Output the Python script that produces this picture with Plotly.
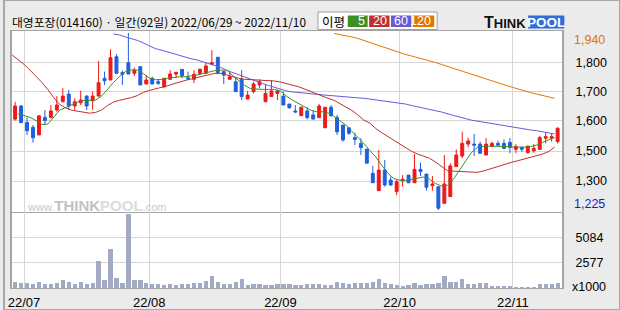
import plotly.graph_objects as go

# ---------------- data ----------------
month_labels = ["22/07", "22/08", "22/09", "22/10", "22/11"]
month_start_idx = [2, 23, 45, 65, 84]

open_ = [1592, 1645, 1578, 1559, 1528, 1599, 1599, 1629, 1662, 1693,
         1645, 1658, 1685, 1666, 1685, 1757, 1750, 1844, 1780, 1820,
         1777, 1804, 1734, 1757, 1743, 1723, 1753, 1774, 1793, 1759,
         1753, 1777, 1777, 1813, 1842, 1784, 1753, 1743, 1753, 1673,
         1703, 1730, 1662, 1683, 1696, 1685, 1653, 1625, 1606, 1625,
         1609, 1598, 1557, 1640, 1599, 1568, 1557, 1517, 1494, 1471,
         1373, 1303, 1386, 1346, 1299, 1343, 1366, 1335, 1389, 1370,
         1323, 1319, 1252, 1279, 1400, 1443, 1491, 1491, 1491, 1447,
         1481, 1494, 1494, 1498, 1470, 1478, 1456, 1464, 1470, 1515,
         1515, 1501]
high = [1662, 1649, 1599, 1568, 1609, 1629, 1649, 1685, 1717, 1710,
        1676, 1707, 1689, 1703, 1827, 1784, 1874, 1855, 1788, 1940,
        1801, 1804, 1770, 1763, 1753, 1757, 1790, 1781, 1793, 1784,
        1790, 1797, 1820, 1871, 1842, 1784, 1784, 1763, 1790, 1706,
        1743, 1753, 1730, 1750, 1710, 1703, 1653, 1649, 1642, 1640,
        1629, 1653, 1640, 1649, 1609, 1568, 1557, 1537, 1515, 1471,
        1403, 1467, 1427, 1359, 1349, 1366, 1366, 1451, 1416, 1370,
        1362, 1319, 1447, 1414, 1470, 1541, 1517, 1532, 1501, 1515,
        1501, 1505, 1510, 1515, 1491, 1478, 1483, 1491, 1524, 1537,
        1535, 1559]
low = [1586, 1578, 1528, 1497, 1528, 1568, 1595, 1622, 1662, 1629,
       1629, 1649, 1629, 1629, 1685, 1730, 1750, 1777, 1730, 1774,
       1766, 1730, 1734, 1734, 1730, 1717, 1750, 1757, 1757, 1750,
       1737, 1770, 1777, 1813, 1773, 1734, 1753, 1703, 1669, 1673,
       1696, 1717, 1662, 1683, 1669, 1649, 1634, 1618, 1606, 1591,
       1592, 1598, 1557, 1605, 1528, 1501, 1528, 1487, 1447, 1414,
       1335, 1303, 1319, 1322, 1285, 1319, 1333, 1335, 1362, 1303,
       1303, 1225, 1252, 1279, 1400, 1434, 1478, 1443, 1454, 1447,
       1478, 1481, 1470, 1454, 1454, 1460, 1454, 1456, 1467, 1494,
       1501, 1494]
close = [1645, 1578, 1545, 1517, 1605, 1586, 1625, 1649, 1685, 1645,
         1662, 1669, 1645, 1685, 1739, 1747, 1840, 1777, 1773, 1774,
         1790, 1730, 1750, 1734, 1737, 1757, 1774, 1781, 1767, 1755,
         1773, 1793, 1807, 1820, 1780, 1770, 1763, 1703, 1683, 1689,
         1734, 1743, 1696, 1706, 1706, 1649, 1638, 1621, 1640, 1598,
         1592, 1645, 1640, 1605, 1541, 1508, 1535, 1510, 1477, 1414,
         1335, 1386, 1326, 1326, 1339, 1349, 1335, 1389, 1380, 1317,
         1330, 1232, 1330, 1403, 1447, 1494, 1504, 1487, 1454, 1491,
         1494, 1487, 1474, 1478, 1481, 1470, 1483, 1474, 1517, 1521,
         1521, 1555]
volume_k = [568, 468, 468, 367, 568, 434, 434, 468, 768, 601,
            434, 568, 434, 468, 2672, 768, 3874, 969, 468, 7381,
            768, 768, 468, 367, 367, 301, 367, 301, 367, 367,
            468, 468, 668, 1169, 568, 434, 434, 568, 868, 301,
            367, 367, 301, 301, 367, 367, 367, 301, 301, 367,
            367, 367, 301, 301, 568, 501, 367, 468, 468, 468,
            568, 868, 468, 367, 301, 234, 301, 468, 301, 367,
            367, 468, 1169, 568, 568, 868, 367, 367, 468, 468,
            167, 234, 234, 234, 100, 100, 100, 100, 367, 367,
            367, 468]

ma5_start = 1
ma5 = [1613, 1607, 1599, 1586, 1570, 1572, 1601, 1629, 1639,
       1651, 1661, 1667, 1669, 1669, 1685, 1714, 1740, 1764, 1784,
       1791, 1790, 1776, 1758, 1751, 1752, 1757, 1761, 1763, 1763,
       1766, 1770, 1776, 1782, 1788, 1790, 1790, 1768, 1748, 1728,
       1715, 1712, 1712, 1712, 1712, 1706, 1685, 1669, 1655, 1642,
       1629, 1622, 1622, 1617, 1603, 1585, 1568, 1542, 1518, 1494,
       1465, 1439, 1405, 1374, 1352, 1345, 1344, 1348, 1355, 1358,
       1349, 1332, 1322, 1324, 1348, 1384, 1423, 1456, 1477, 1482,
       1483, 1483, 1482, 1481, 1479, 1478, 1479, 1481, 1487, 1498,
       1508, 1518]
ma20_start = 0
ma20 = [1851, 1833, 1813, 1790, 1766, 1740, 1711, 1678, 1651, 1637,
        1628, 1623, 1618, 1616, 1619, 1629, 1647, 1661, 1668, 1672,
        1679, 1687, 1700, 1708, 1713, 1719, 1726, 1734, 1742, 1748,
        1754, 1760, 1766, 1774, 1777, 1777, 1770, 1762, 1757, 1753,
        1752, 1750, 1750, 1749, 1746, 1742, 1736, 1729, 1723, 1714,
        1704, 1694, 1685, 1676, 1668, 1655, 1641, 1627, 1609, 1588,
        1576, 1554, 1537, 1522, 1508, 1495, 1477, 1462, 1451, 1443,
        1434, 1419, 1401, 1384, 1382, 1381, 1380, 1378, 1377, 1382,
        1390, 1397, 1403, 1411, 1419, 1425, 1431, 1437, 1443, 1451,
        1461, 1479]
ma60_start = 17
ma60 = [1936, 1932, 1924, 1918, 1910, 1900, 1889, 1877, 1871, 1864,
        1857, 1849, 1841, 1836, 1831, 1824, 1817, 1811, 1801, 1789,
        1780, 1771, 1760, 1752, 1744, 1736, 1728, 1720, 1712, 1706,
        1702, 1699, 1696, 1694, 1692, 1690, 1688, 1686, 1684, 1683,
        1682, 1679, 1676, 1673, 1670, 1667, 1664, 1661, 1658, 1653,
        1647, 1641, 1636, 1631, 1626, 1621, 1613, 1607, 1601, 1594,
        1588, 1584, 1580, 1576, 1572, 1567, 1562, 1557, 1553, 1550,
        1548, 1545, 1541, 1536, 1532]
ma120_start = 54
ma120 = [1938, 1934, 1929, 1924, 1918, 1910, 1902, 1893, 1883, 1875,
         1867, 1860, 1853, 1847, 1841, 1835, 1827, 1821, 1813, 1805,
         1797, 1788, 1780, 1774, 1766, 1758, 1750, 1742, 1734, 1727,
         1720, 1712, 1706, 1699, 1693, 1687, 1681, 1676]

price_tick_vals = [1819, 1702, 1585, 1463, 1342]
price_tick_text = ["1,800", "1,700", "1,600", "1,500", "1,300"]
price_max_label = "1,940"
price_min_label = "1,225"
vol_tick_vals = [2577, 5084]
vol_tick_text = ["2577", "5084"]
title_text = "대영포장(014160) · 일간(92일) 2022/06/29 ~ 2022/11/10"

# ---------------- styling ----------------
W, H = 620, 310
BG = "#ebebeb"
GRID = "#d6d6d6"
BORDER = "#a4a4a4"
UP = "#f01818"
DOWN = "#1f5fe0"
C5, C20, C60, C120 = "#3f8f22", "#c0302c", "#6a5ad8", "#e07800"
FONT = "Liberation Sans"


def px(x):
    return x / W


def py(y):
    return 1 - y / H


idx = list(range(len(close)))
ma_off = -0.5

fig = go.Figure()
fig.add_trace(go.Candlestick(
    x=idx, open=open_, high=high, low=low, close=close,
    increasing=dict(line=dict(color=UP, width=1), fillcolor=UP),
    decreasing=dict(line=dict(color=DOWN, width=1), fillcolor=DOWN),
    hoverinfo="skip", showlegend=False, xaxis="x", yaxis="y"))


def ma_trace(vals, start, color):
    xs = [i + ma_off for i in range(start, start + len(vals))]
    return go.Scatter(x=xs, y=vals, mode="lines", line=dict(color=color, width=1),
                      hoverinfo="skip", showlegend=False, xaxis="x", yaxis="y")


fig.add_trace(ma_trace(ma120, ma120_start, C120))
fig.add_trace(ma_trace(ma60, ma60_start, C60))
fig.add_trace(ma_trace(ma20, ma20_start, C20))
fig.add_trace(ma_trace(ma5, ma5_start, C5))

fig.add_trace(go.Bar(x=idx, y=volume_k, marker=dict(color="#a2aac4", line=dict(width=0)),
                     width=0.72, hoverinfo="skip", showlegend=False, xaxis="x2", yaxis="y2"))

xdom = [px(8), px(562)]
xr = [-0.533, 91.8]
grid_x = [i - 0.5 for i in month_start_idx]

fig.update_layout(
    width=W, height=H, margin=dict(l=0, r=0, t=0, b=0),
    paper_bgcolor=BG, plot_bgcolor="white",
    font=dict(family=FONT, size=12, color="#000"),
    bargap=0,
    xaxis=dict(domain=xdom, range=xr, anchor="y", tickvals=grid_x, showticklabels=False,
               showgrid=True, gridcolor=GRID, gridwidth=1, zeroline=False,
               showline=True, mirror=True, linecolor=BORDER, linewidth=1,
               rangeslider=dict(visible=False), ticks=""),
    xaxis2=dict(domain=xdom, range=xr, anchor="y2", matches="x", tickvals=grid_x,
                ticktext=month_labels, showgrid=True, gridcolor=GRID, gridwidth=1,
                zeroline=False, showline=True, mirror=False, linecolor=BORDER, linewidth=1,
                ticks="", tickfont=dict(size=13, family=FONT), ticklabelstandoff=2),
    yaxis=dict(domain=[py(212), py(31)], range=[1216.76, 1948], side="right", anchor="x",
               tickvals=price_tick_vals, ticktext=price_tick_text, showgrid=True,
               gridcolor=GRID, gridwidth=1, zeroline=False, showline=True, mirror=True,
               linecolor=BORDER, linewidth=1.5, ticks="", ticklabelstandoff=9,
               tickfont=dict(size=12.5, family=FONT)),
    yaxis2=dict(domain=[py(288), py(212)], range=[0, 7623], side="right", anchor="x2",
                tickvals=vol_tick_vals, ticktext=vol_tick_text, showgrid=True,
                gridcolor=GRID, gridwidth=1, zeroline=False, showline=True, mirror=True,
                linecolor=BORDER, linewidth=1.5, ticks="", ticklabelstandoff=9,
                tickfont=dict(size=12.5, family=FONT)),
)

shapes = []
annotations = []

# outer frame
shapes.append(dict(type="rect", xref="paper", yref="paper", x0=0, x1=1, y0=0, y1=1,
                   line=dict(color="#a8a8a8", width=2), fillcolor="rgba(0,0,0,0)"))

# title
annotations.append(dict(xref="paper", yref="paper", x=px(6), y=py(22), xanchor="left",
                        yanchor="middle", showarrow=False, text=title_text,
                        font=dict(family="Noto Sans CJK KR", size=11.8, color="#000")))

# MA legend box
shapes.append(dict(type="rect", xref="paper", yref="paper", x0=px(316), x1=px(436),
                   y0=py(29.5), y1=py(12), line=dict(color="#a0a0a0", width=1),
                   fillcolor="white"))
annotations.append(dict(xref="paper", yref="paper", x=px(332), y=py(21), xanchor="center",
                        yanchor="middle", showarrow=False, text="이평",
                        font=dict(family="Noto Sans CJK KR", size=12.5, color="#000")))
legend_items = [("5", C5, 346, 366), ("20", C20, 367.5, 388), ("60", C60, 389.5, 410),
                ("120", C120, 411.5, 433)]
for label, col, a, b in legend_items:
    shapes.append(dict(type="rect", xref="paper", yref="paper", x0=px(a), x1=px(b),
                       y0=py(27), y1=py(15.5), line=dict(width=0), fillcolor=col))
    annotations.append(dict(xref="paper", yref="paper", x=px(b - 1), y=py(21.3),
                            xanchor="right", yanchor="middle", showarrow=False, text=label,
                            font=dict(family=FONT, size=12.5, color="white")))

# ThinkPool logo
shapes.append(dict(type="rect", xref="paper", yref="paper", x0=px(527.5), x1=px(564),
                   y0=py(28.5), y1=py(15.5), line=dict(width=0), fillcolor="#2e6fd8"))
annotations.append(dict(xref="paper", yref="paper", x=px(527), y=py(22.5), xanchor="right",
                        yanchor="middle", showarrow=False,
                        text="<b><span style='font-size:16px'>T</span>HINK</b>",
                        font=dict(family=FONT, size=13, color="#111")))
annotations.append(dict(xref="paper", yref="paper", x=px(545.7), y=py(22.3), xanchor="center",
                        yanchor="middle", showarrow=False, text="<b>POOL</b>",
                        font=dict(family=FONT, size=13.5, color="white")))

# watermark
annotations.append(dict(xref="paper", yref="paper", x=px(21), y=py(205), xanchor="left",
                        yanchor="middle", showarrow=False,
                        text="www.<b><span style='font-size:15px;color:#c2c2c2'>THINK</span>"
                             "<span style='font-size:15px;color:#dcdcdc'>POOL</span></b>.com",
                        font=dict(family=FONT, size=11, color="#c8c8c8")))

# max / min labels
annotations.append(dict(xref="paper", yref="paper", x=px(571.5), y=py(31), xanchor="left",
                        yanchor="top", showarrow=False, text=price_max_label,
                        font=dict(family=FONT, size=12.5, color=C120)))
annotations.append(dict(xref="paper", yref="paper", x=px(571.5), y=py(213), xanchor="left",
                        yanchor="bottom", showarrow=False, text=price_min_label,
                        font=dict(family=FONT, size=12.5, color="#1a1ad0")))
annotations.append(dict(xref="paper", yref="paper", x=px(570), y=py(287), xanchor="left",
                        yanchor="middle", showarrow=False, text="x1000",
                        font=dict(family=FONT, size=12.5, color="#000")))

fig.update_layout(shapes=shapes, annotations=annotations)
fig.write_html("out.html")
